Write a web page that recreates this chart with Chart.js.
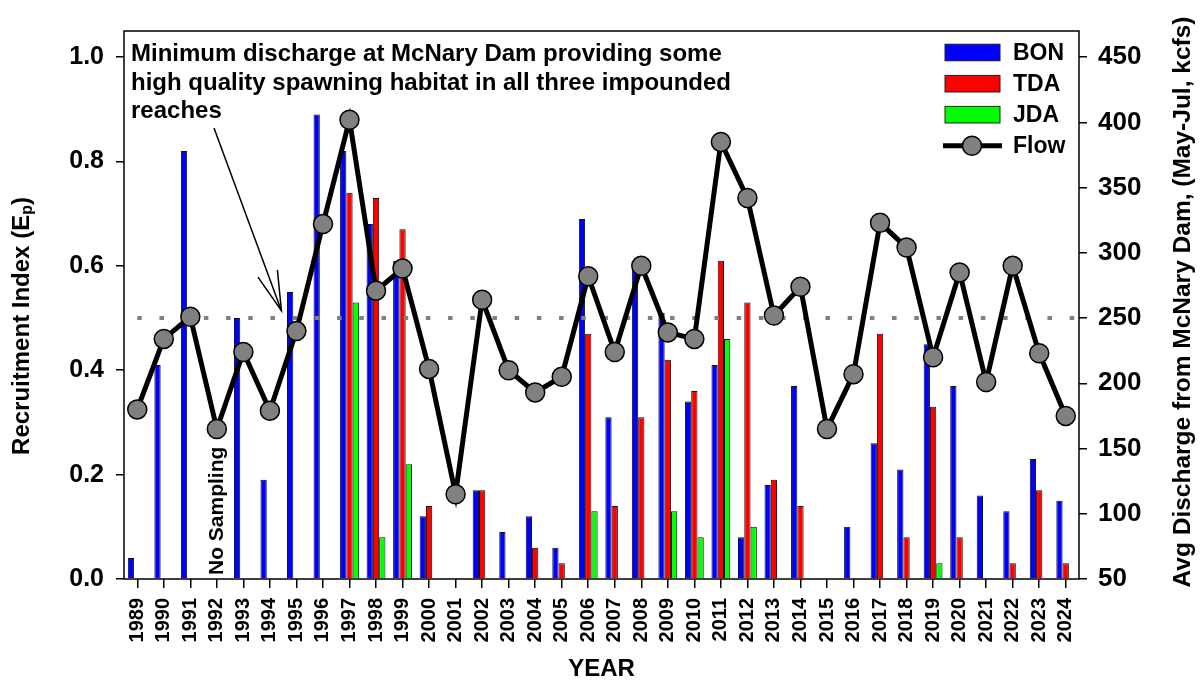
<!DOCTYPE html>
<html><head><meta charset="utf-8">
<script src="https://cdn.jsdelivr.net/npm/chart.js@4.4.1/dist/chart.umd.min.js"></script>
<style>html,body{margin:0;padding:0;background:#fff;}</style>
</head><body>
<canvas id="c" width="1200" height="685" style="display:block;width:1200px;height:685px"></canvas>
<script>
const years = ['1989','1990','1991','1992','1993','1994','1995','1996','1997','1998','1999','2000','2001','2002','2003','2004','2005','2006','2007','2008','2009','2010','2011','2012','2013','2014','2015','2016','2017','2018','2019','2020','2021','2022','2023','2024'];
const bon = [0.04,0.41,0.82,null,0.50,0.19,0.55,0.89,0.82,0.68,0.61,0.12,null,0.17,0.09,0.12,0.06,0.69,0.31,0.60,0.51,0.34,0.41,0.08,0.18,0.37,null,0.10,0.26,0.21,0.45,0.37,0.16,0.13,0.23,0.15];
const tda = [null,null,null,null,null,null,null,null,0.74,0.73,0.67,0.14,null,0.17,null,0.06,0.03,0.47,0.14,0.31,0.42,0.36,0.61,0.53,0.19,0.14,null,null,0.47,0.08,0.33,0.08,null,0.03,0.17,0.03];
const jda = [null,null,null,null,null,null,null,null,0.53,0.08,0.22,null,null,null,null,null,null,0.13,null,null,0.13,0.08,0.46,0.10,null,null,null,null,null,null,0.03,null,null,null,null,null];
const flow = [180,234,251,165,224,179,240,322,402,271,288,211,115,264,210,193,205,282,224,290,239,234,385,342,252,274,165,207,323,304,220,285,201,290,223,175];
const leftTicks = [0,0.2,0.4,0.6,0.8,1.0];
const rightTicks = [50,100,150,200,250,300,350,400,450];
const threshold = 0.5;
const noteLines = ['Minimum discharge at McNary Dam providing some','high quality spawning habitat in all three impounded','reaches'];
const noSamplingYear = '1992';
const arrowYear = '1995';

const FONT = '"Liberation Sans", Arial, Helvetica, sans-serif';

const decor = {
  id: 'decor',
  beforeDatasetDraw(chart, args) {
    if (args.index !== 3) return;
    const {ctx, chartArea, scales: {x, y}} = chart;
    const py = y.getPixelForValue(threshold);
    ctx.save();
    ctx.strokeStyle = '#808080';
    ctx.lineWidth = 4;
    ctx.setLineDash([4.5, 17.7]);
    ctx.beginPath();
    ctx.moveTo(x.getPixelForValue(0), py);
    ctx.lineTo(chartArea.right, py);
    ctx.stroke();
    ctx.restore();
  },
  afterDraw(chart) {
    const {ctx, chartArea, scales: {x, y}} = chart;
    ctx.save();
    // frame
    ctx.strokeStyle = '#000';
    ctx.lineWidth = 1.5;
    ctx.strokeRect(chartArea.left, chartArea.top, chartArea.right - chartArea.left, chartArea.bottom - chartArea.top);

    // annotation text
    ctx.fillStyle = '#000';
    ctx.font = 'bold 24px ' + FONT;
    ctx.textAlign = 'left';
    ctx.textBaseline = 'alphabetic';
    noteLines.forEach((t, i) => ctx.fillText(t, 131, 61 + i * 28.5));

    // arrow
    const tipX = x.getPixelForValue(years.indexOf(arrowYear)) - 15;
    const tipY = y.getPixelForValue(threshold) - 7.3;
    const sx = 214, sy = 128;
    ctx.lineWidth = 1.5;
    ctx.beginPath();
    ctx.moveTo(sx, sy); ctx.lineTo(tipX, tipY); ctx.stroke();
    const ang = Math.atan2(tipY - sy, tipX - sx);
    const hl = 41, ha = 14.6 * Math.PI / 180;
    ctx.beginPath();
    ctx.moveTo(tipX - hl * Math.cos(ang - ha), tipY - hl * Math.sin(ang - ha));
    ctx.lineTo(tipX, tipY);
    ctx.lineTo(tipX - hl * Math.cos(ang + ha), tipY - hl * Math.sin(ang + ha));
    ctx.stroke();

    // No Sampling
    ctx.save();
    ctx.translate(x.getPixelForValue(years.indexOf(noSamplingYear)), chartArea.bottom - 4);
    ctx.rotate(-Math.PI / 2);
    ctx.font = 'bold 21px ' + FONT;
    ctx.textBaseline = 'middle';
    ctx.textAlign = 'left';
    ctx.fillText('No Sampling', 0, 0);
    ctx.restore();

    // left title with subscript
    ctx.save();
    ctx.translate(22, 326);
    ctx.rotate(-Math.PI / 2);
    ctx.textBaseline = 'middle';
    ctx.textAlign = 'left';
    const f1 = 'bold 24px ' + FONT, f2 = 'bold 16px ' + FONT;
    ctx.font = f1; const a = 'Recruitment Index (E'; const wa = ctx.measureText(a).width;
    ctx.font = f2; const wb = ctx.measureText('p').width;
    ctx.font = f1; const wc = ctx.measureText(')').width;
    let cx = -(wa + wb + wc) / 2;
    ctx.font = f1; ctx.fillText(a, cx, 0); cx += wa;
    ctx.font = f2; ctx.fillText('p', cx, 6); cx += wb;
    ctx.font = f1; ctx.fillText(')', cx, 0);
    ctx.restore();

    // right title
    ctx.save();
    ctx.translate(1183, 302);
    ctx.rotate(-Math.PI / 2);
    ctx.font = 'bold 24.5px ' + FONT;
    ctx.textAlign = 'center';
    ctx.textBaseline = 'middle';
    ctx.fillText('Avg Discharge from McNary Dam, (May-Jul, kcfs)', 0, 0);
    ctx.restore();

    // legend
    const items = chart.data.datasets;
    const rowY = [52.5, 83.7, 114.7, 145.7];
    ctx.font = 'bold 23px ' + FONT;
    ctx.textBaseline = 'middle';
    ctx.textAlign = 'left';
    items.forEach((ds, i) => {
      const cy = rowY[i];
      if (ds.type === 'line') {
        ctx.strokeStyle = ds.borderColor; ctx.lineWidth = 5;
        ctx.beginPath(); ctx.moveTo(943, cy); ctx.lineTo(1002, cy); ctx.stroke();
        ctx.beginPath(); ctx.arc(972, cy, 9.5, 0, Math.PI * 2);
        ctx.fillStyle = ds.pointBackgroundColor; ctx.fill();
        ctx.lineWidth = 1.5; ctx.strokeStyle = ds.pointBorderColor; ctx.stroke();
      } else {
        ctx.fillStyle = ds.backgroundColor;
        ctx.fillRect(945, cy - 8.3, 55, 16.6);
        ctx.lineWidth = 1; ctx.strokeStyle = '#222';
        ctx.strokeRect(945, cy - 8.3, 55, 16.6);
      }
      ctx.fillStyle = '#000';
      ctx.fillText(ds.label, 1013, cy + 1);
    });
    ctx.restore();
  }
};

const tickFont = {family: FONT, size: 25, weight: 'bold'};

new Chart(document.getElementById('c'), {
  data: {
    labels: years,
    datasets: [
      {type: 'bar', label: 'BON', data: bon, backgroundColor: '#0000FF', borderColor: '#111', borderWidth: 1, yAxisID: 'y', order: 2},
      {type: 'bar', label: 'TDA', data: tda, backgroundColor: '#FF0000', borderColor: '#111', borderWidth: 1, yAxisID: 'y', order: 2},
      {type: 'bar', label: 'JDA', data: jda, backgroundColor: '#00FF00', borderColor: '#111', borderWidth: 1, yAxisID: 'y', order: 2},
      {type: 'line', label: 'Flow', data: flow, borderColor: '#000', borderWidth: 5, pointRadius: 9.5, pointHoverRadius: 9.5,
       pointBackgroundColor: '#808080', pointBorderColor: '#000', pointBorderWidth: 1.5, yAxisID: 'y2', order: 1, tension: 0}
    ]
  },
  options: {
    responsive: false,
    animation: false,
    devicePixelRatio: 1,
    layout: {padding: {top: 31, left: 0, right: 0, bottom: 0}},
    datasets: {bar: {categoryPercentage: 0.71, barPercentage: 1.0, grouped: true}},
    plugins: {legend: {display: false}, tooltip: {enabled: false}},
    scales: {
      x: {
        type: 'category',
        offset: true,
        grid: {offset: false, drawOnChartArea: false, tickLength: 9, color: '#000', lineWidth: 1.5},
        border: {display: false},
        ticks: {font: {family: FONT, size: 20, weight: 'bold'}, color: '#000', maxRotation: 90, minRotation: 90, padding: 10, autoSkip: false},
        title: {display: true, text: 'YEAR', font: {family: FONT, size: 24, weight: 'bold'}, color: '#000', padding: {top: 0, bottom: 1}},
        afterFit(s) { s.height = 106; }
      },
      y: {
        type: 'linear', position: 'left', min: 0, max: 1.05,
        grid: {drawOnChartArea: false, tickLength: 8, color: '#000', lineWidth: 1.5},
        border: {display: false},
        ticks: {font: tickFont, color: '#000', padding: 12, callback: v => Number(v).toFixed(1)},
        afterBuildTicks(s) { s.ticks = leftTicks.map(v => ({value: v})); },
        afterFit(s) { s.width = 124; }
      },
      y2: {
        type: 'linear', position: 'right', min: 50, max: 470,
        grid: {drawOnChartArea: false, tickLength: 8, color: '#000', lineWidth: 1.5},
        border: {display: false},
        ticks: {font: {family: FONT, size: 26, weight: 'bold'}, color: '#000', padding: 11, callback: v => String(v)},
        afterBuildTicks(s) { s.ticks = rightTicks.map(v => ({value: v})); },
        afterFit(s) { s.width = 121; }
      }
    }
  },
  plugins: [decor]
});
</script>
</body></html>
